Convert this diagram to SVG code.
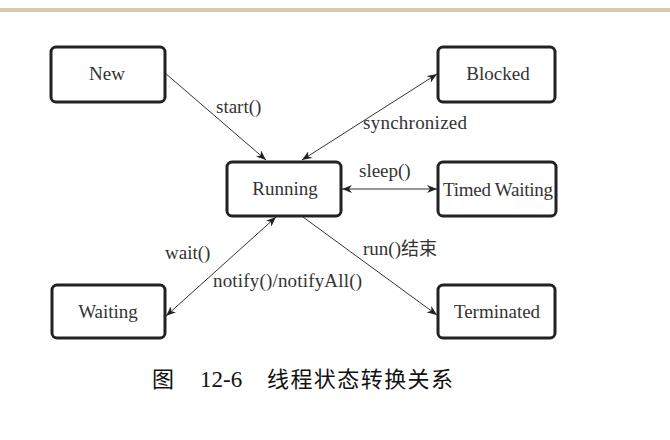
<svg xmlns="http://www.w3.org/2000/svg" width="670" height="440" viewBox="0 0 670 440">
<style>
.box{fill:#fff;stroke:#222;stroke-width:3}
.nt{font-family:"Liberation Serif","Times New Roman",serif;font-size:19px;fill:#333;text-anchor:middle}
.el{font-family:"Liberation Serif","Times New Roman",serif;font-size:19px;fill:#333}
.ln{stroke:#333;stroke-width:1;fill:none}
.cap{fill:#111}
.cjk{font-family:"Noto Sans CJK SC",sans-serif}
.ser{font-family:"Liberation Serif","Times New Roman",serif}
</style>
<defs>
<marker id="ah" viewBox="0 0 10 8" refX="10" refY="4" markerWidth="10" markerHeight="8" markerUnits="userSpaceOnUse" orient="auto-start-reverse">
<path d="M0,0 L10,4 L0,8 L3,4 z" fill="#222"/>
</marker>
</defs>
<rect x="0" y="0" width="670" height="440" fill="#fff"/>
<rect x="0" y="8" width="670" height="4" fill="#dac9a6"/>
<g id="connectors">
<line class="ln" x1="165" y1="73" x2="266" y2="160" marker-end="url(#ah)"/>
<line class="ln" x1="302" y1="160" x2="437" y2="74" marker-start="url(#ah)" marker-end="url(#ah)"/>
<line class="ln" x1="342" y1="189" x2="437" y2="189" marker-start="url(#ah)" marker-end="url(#ah)"/>
<line class="ln" x1="276" y1="217" x2="166" y2="316" marker-start="url(#ah)" marker-end="url(#ah)"/>
<line class="ln" x1="303" y1="217" x2="437" y2="315" marker-end="url(#ah)"/>
<text class="el" x="216" y="113">start()</text>
<text class="el" x="363" y="129" textLength="104">synchronized</text>
<text class="el" x="359" y="177">sleep()</text>
<text class="el" x="165" y="259">wait()</text>
<text class="el" x="213" y="287" textLength="149">notify()/notifyAll()</text>
<text class="el" x="363" y="255">run()<tspan class="cjk" font-size="18">结束</tspan></text>
</g>
<g id="new"><rect class="box" x="51" y="47" width="114" height="55" rx="5"/><text class="nt" x="107" y="80">New</text></g>
<g id="blocked"><rect class="box" x="438" y="47" width="117" height="55" rx="5"/><text class="nt" x="498" y="80">Blocked</text></g>
<g id="running"><rect class="box" x="227" y="162" width="114" height="54" rx="5"/><text class="nt" x="285" y="195">Running</text></g>
<g id="timed"><rect class="box" x="438" y="162" width="118" height="54" rx="5"/><text class="nt" x="498" y="196" textLength="110">Timed Waiting</text></g>
<g id="waiting"><rect class="box" x="52" y="285" width="113" height="53" rx="5"/><text class="nt" x="108" y="318">Waiting</text></g>
<g id="terminated"><rect class="box" x="438" y="285" width="117" height="53" rx="5"/><text class="nt" x="497" y="318">Terminated</text></g>
<g id="caption">
<text class="cap cjk" x="152" y="387" font-size="22">图</text>
<text class="cap ser" x="200" y="387" font-size="23">12-6</text>
<text class="cap cjk" x="267" y="387" font-size="22" textLength="186">线程状态转换关系</text>
</g>
</svg>
